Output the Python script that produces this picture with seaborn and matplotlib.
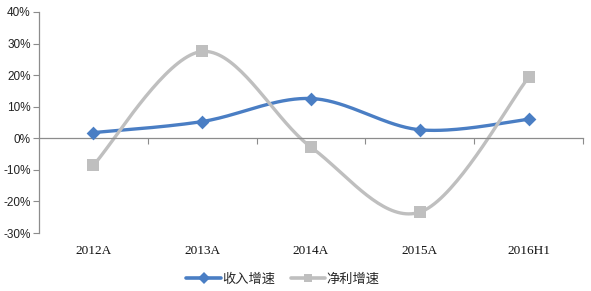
import numpy as np
import pandas as pd
import matplotlib
matplotlib.use("Agg")
import matplotlib.pyplot as plt
from matplotlib.lines import Line2D
import seaborn as sns

categories = ["2012A", "2013A", "2014A", "2015A", "2016H1"]
revenue_growth = [1.8, 5.3, 12.6, 2.7, 6.0]
profit_growth = [-8.5, 27.5, -2.8, -23.4, 19.3]
y_ticks = [-30, -20, -10, 0, 10, 20, 30, 40]
series_names = ["收入增速", "净利增速"]

sns.set_theme(style="white")
plt.rcParams["font.family"] = ["Noto Sans CJK SC", "DejaVu Sans"]

BLUE = "#4A7EC4"
GRAY = "#BFBFBF"
AXC = "#8C8C8C"


def smooth(xs, ys, n=40):
    # Excel-like smoothed line: cubic Bezier with Catmull-Rom control points
    P = np.column_stack([xs, ys]).astype(float)
    m = len(P)
    outx, outy = [], []
    for i in range(m - 1):
        p0 = P[i - 1] if i > 0 else P[i]
        p1 = P[i]
        p2 = P[i + 1]
        p3 = P[i + 2] if i + 2 < m else P[i + 1]
        c1 = p1 + (p2 - p0) / 6.0
        c2 = p2 - (p3 - p1) / 6.0
        t = np.linspace(0, 1, n)[:, None]
        b = ((1 - t) ** 3) * p1 + 3 * ((1 - t) ** 2) * t * c1 + 3 * (1 - t) * t ** 2 * c2 + t ** 3 * p2
        outx.extend(b[:, 0]); outy.extend(b[:, 1])
    return np.array(outx), np.array(outy)


fig = plt.figure(figsize=(5.91, 2.91), dpi=100)
ax = fig.add_axes([39 / 591, 1 - 233 / 291, (583 - 39) / 591, (233 - 12) / 291])

xs = np.arange(len(categories))
for vals, col, mk, ms in [(revenue_growth, BLUE, "D", 7), (profit_growth, GRAY, "s", 8)]:
    sx, sy = smooth(xs, vals)
    sns.lineplot(x=sx, y=sy, ax=ax, color=col, lw=2.4, sort=False, estimator=None, zorder=2)
    sns.scatterplot(x=xs, y=vals, ax=ax, color=col, marker=mk, s=ms ** 2, edgecolor=col, linewidth=0, zorder=3)

ax.set_xlim(-0.5, len(categories) - 0.5)
ax.set_ylim(-30, 40)
ax.set_yticks(y_ticks)
ax.set_yticklabels([f"{v}%" for v in y_ticks], fontsize=8.5, color="#222222", family=["Liberation Sans"])
ax.tick_params(axis="y", direction="out", length=4, width=0.8, color=AXC, pad=2, left=True)

# x axis line at zero with category boundary ticks
ax.spines["bottom"].set_position(("data", 0))
ax.set_xticks(np.arange(len(categories)) + 0.5)
ax.set_xticklabels([])
ax.tick_params(axis="x", direction="out", length=4, width=0.8, color=AXC, bottom=True)
for s in ["top", "right"]:
    ax.spines[s].set_visible(False)
for s in ["left", "bottom"]:
    ax.spines[s].set_color(AXC)
    ax.spines[s].set_linewidth(0.9)

sec = ax.secondary_xaxis(0.0)
sec.set_xticks(xs)
sec.set_xticklabels(categories, fontsize=9.5, color="#111111", family=["Liberation Serif"])
sec.tick_params(length=0, pad=9)
sec.spines["bottom"].set_visible(False)

handles = [
    Line2D([], [], color=BLUE, lw=2.6, marker="D", markersize=6, markeredgewidth=0),
    Line2D([], [], color=GRAY, lw=2.6, marker="s", markersize=6, markeredgewidth=0),
]
fig.legend(handles, series_names, loc="center", bbox_to_anchor=(283 / 591, 1 - 279 / 291),
           ncol=2, frameon=False, fontsize=9.5, handlelength=2.6, handletextpad=0.1,
           columnspacing=1.2, borderpad=0)

fig.savefig("out.png", dpi=100)
